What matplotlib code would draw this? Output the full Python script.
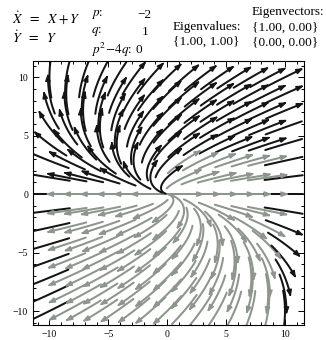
import numpy as np
import matplotlib.pyplot as plt

# system  X' = a*X + b*Y,  Y' = c*X + d*Y
a, b, c, d = 1.0, 1.0, 0.0, 1.0
p_val, q_val, disc_val = -2, 1, 0
eigenvalues = "{1.00, 1.00}"
eigenvectors = ["{1.00, 0.00}", "{0.00, 0.00}"]

# start points of the trajectory arrows
grid_x = np.linspace(-10, 10, 15)
grid_y = np.linspace(-10, 10, 15)
TRAIL_LEN = 3.5

plt.rcParams['font.family'] = ['Liberation Serif', 'DejaVu Serif']
plt.rcParams['mathtext.fontset'] = 'stix'


def field(pt):
    x, y = pt
    return np.array([a * x + b * y, c * x + d * y])


def unit(z, sign):
    v = field(z)
    s = np.hypot(*v)
    return sign * v / s if s > 1e-9 else v * 0


def follow(x0, y0, length, sign, n=30):
    # RK4 along the flow with unit speed (arc-length steps)
    pts = [np.array([x0, y0], float)]
    h = length / n
    for _ in range(n):
        p = pts[-1]
        k1 = unit(p, sign)
        k2 = unit(p + h / 2 * k1, sign)
        k3 = unit(p + h / 2 * k2, sign)
        k4 = unit(p + h * k3, sign)
        pts.append(p + h / 6 * (k1 + 2 * k2 + 2 * k3 + k4))
    return np.array(pts)


def trail(x0, y0, length):
    back = follow(x0, y0, length / 2, -1)[::-1]
    fwd = follow(x0, y0, length / 2, 1)
    return np.vstack([back, fwd[1:]])


def shade(x0, y0):
    # lighter ink for the lower half and the band just above the x axis
    if -9 < x0 < 9 and y0 < 0.5:
        return '#8e948e'
    if 0 < x0 < 9 and y0 < 3.5:
        return '#8e948e'
    return '#141414'


fig = plt.figure(figsize=(3.26, 3.40), dpi=100)
ax = fig.add_axes([0.101, 0.044, 0.831, 0.777])

for x0 in grid_x:
    for y0 in grid_y:
        if np.hypot(*field((x0, y0))) < 1e-9:
            continue
        pts = trail(x0, y0, TRAIL_LEN)
        col = shade(x0, y0)
        ax.plot(pts[:-4, 0], pts[:-4, 1], color=col, lw=1.45, solid_capstyle='round')
        ax.annotate('', xy=pts[-1], xytext=pts[-5],
                    arrowprops=dict(arrowstyle='-|>,head_length=0.4,head_width=0.15',
                                    color=col, lw=1.1, shrinkA=0, shrinkB=0))

ax.set_xlim(-11.4, 11.6)
ax.set_ylim(-11.2, 11.4)
ax.set_xticks([-10, -5, 0, 5, 10])
ax.set_yticks([-10, -5, 0, 5, 10])
ax.set_xticks(np.arange(-11, 12), minor=True)
ax.set_yticks(np.arange(-11, 12), minor=True)
ax.tick_params(which='both', direction='in', top=True, right=True, labelsize=7, width=0.7)
ax.tick_params(which='major', length=4)
ax.tick_params(which='minor', length=2)
for s in ax.spines.values():
    s.set_linewidth(0.8)

# header with the equations and the linear-algebra summary
fs = 9.5
fig.text(0.037, 0.947, r'$\dot{X}\ \ =\ \ X + Y$', fontsize=fs + 0.5, va='center')
fig.text(0.037, 0.888, r'$\dot{Y}\ \ =\ \ Y$', fontsize=fs + 0.5, va='center')
fig.text(0.279, 0.956, r'$p$:', fontsize=fs, va='center')
fig.text(0.279, 0.906, r'$q$:', fontsize=fs, va='center')
fig.text(0.279, 0.853, r'$p^2\!-\!4q$:', fontsize=fs, va='center')
fig.text(0.466, 0.956, '\u2212%d' % abs(p_val), fontsize=fs, ha='right', va='center')
fig.text(0.455, 0.906, '%d' % q_val, fontsize=fs, ha='right', va='center')
fig.text(0.415, 0.853, '%d' % disc_val, fontsize=fs, va='center')
fig.text(0.531, 0.921, 'Eigenvalues:', fontsize=fs, va='center')
fig.text(0.531, 0.876, eigenvalues, fontsize=fs, va='center')
fig.text(0.773, 0.965, 'Eigenvectors:', fontsize=fs, va='center')
fig.text(0.773, 0.918, eigenvectors[0], fontsize=fs, va='center')
fig.text(0.773, 0.874, eigenvectors[1], fontsize=fs, va='center')

fig.savefig('out.png', dpi=100)
